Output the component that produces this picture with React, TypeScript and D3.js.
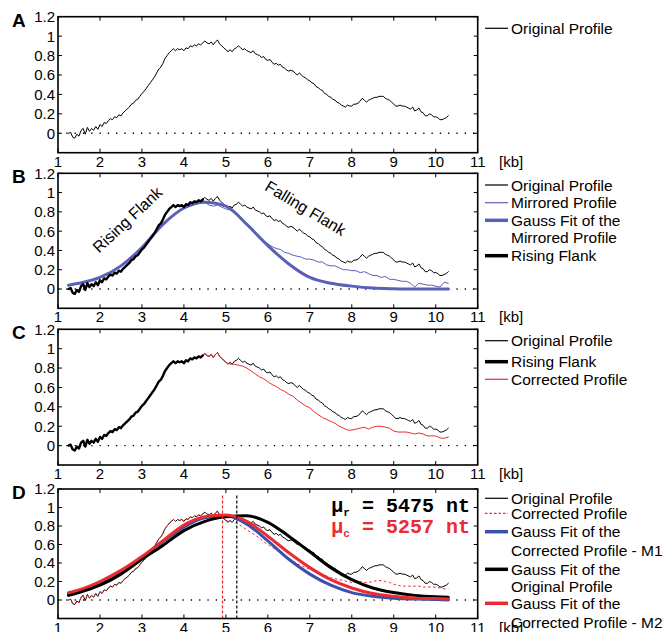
import React from 'react';
import * as d3 from 'd3';

// profile sampled every 0.05 kb from 1.25 kb
const profileStart = 1.25;
const profileStep = 0.05;
const originalProfile = [
  0.0, 0.01, -0.04, -0.05, -0.01, -0.03, 0.03, 0.05, -0.01, 0.06,
  0.02, 0.05, 0.03, 0.07, 0.04, 0.09, 0.07, 0.11, 0.1, 0.13,
  0.15, 0.14, 0.17, 0.16, 0.19, 0.18, 0.21, 0.23, 0.25, 0.27,
  0.3, 0.31, 0.34, 0.35, 0.38, 0.41, 0.43, 0.46, 0.49, 0.52,
  0.55, 0.58, 0.62, 0.66, 0.68, 0.72, 0.77, 0.8, 0.83, 0.85,
  0.87, 0.85, 0.87, 0.86, 0.87, 0.85, 0.88, 0.87, 0.9, 0.89,
  0.91, 0.9, 0.92, 0.91, 0.93, 0.95, 0.93, 0.92, 0.94, 0.91,
  0.94, 0.96, 0.92, 0.9, 0.88, 0.86, 0.84, 0.86, 0.84, 0.87,
  0.88, 0.9, 0.88, 0.86, 0.87, 0.85, 0.84, 0.83, 0.85, 0.82,
  0.81, 0.8, 0.78, 0.79, 0.76, 0.75, 0.76, 0.73, 0.71, 0.72,
  0.7, 0.71, 0.68, 0.67, 0.65, 0.64, 0.65, 0.64, 0.62, 0.6,
  0.62, 0.6, 0.58, 0.57, 0.55, 0.54, 0.52, 0.51, 0.48, 0.47,
  0.45, 0.44, 0.41, 0.4, 0.38, 0.37, 0.35, 0.34, 0.32, 0.31,
  0.29, 0.28, 0.27, 0.29, 0.28, 0.28, 0.3, 0.3, 0.31, 0.33,
  0.36, 0.34, 0.32, 0.34, 0.35, 0.36, 0.37, 0.37, 0.38, 0.38,
  0.38, 0.36, 0.35, 0.34, 0.32, 0.3, 0.28, 0.28, 0.29, 0.28,
  0.28, 0.27, 0.26, 0.25, 0.27, 0.23, 0.24, 0.26, 0.22, 0.21,
  0.18, 0.18, 0.2, 0.19, 0.17, 0.17, 0.16, 0.14, 0.14, 0.15,
  0.16, 0.18,
];
const risingEnd = 65; // up to 4.45 kb
const peakEnd = 75; // up to 4.95 kb

// mirrored falling flank, every 0.1 kb from 4.5 kb
const mirroredStart = 4.5;
const mirroredTail = [
  0.9, 0.87, 0.86, 0.87, 0.85, 0.83, 0.82, 0.79, 0.76, 0.72,
  0.67, 0.62, 0.57, 0.52, 0.5, 0.47, 0.44, 0.42, 0.41, 0.38,
  0.37, 0.35, 0.34, 0.33, 0.31, 0.31, 0.3, 0.28, 0.28, 0.25,
  0.24, 0.24, 0.22, 0.2, 0.2, 0.19, 0.19, 0.17, 0.18, 0.16,
  0.14, 0.14, 0.12, 0.13, 0.1, 0.1, 0.09, 0.08, 0.08, 0.06,
  0.02, 0.06, 0.05, 0.04, 0.04, 0.03, 0.02, 0.07, 0.06,
];

// corrected profiles, every 0.1 kb from 5.0 kb
const tailStart = 5.0;
const tailStep = 0.1;
const correctedTailC = [
  0.86, 0.84, 0.84, 0.83, 0.82, 0.8, 0.77, 0.74, 0.71, 0.69,
  0.66, 0.63, 0.61, 0.58, 0.56, 0.53, 0.51, 0.47, 0.44, 0.41,
  0.39, 0.35, 0.32, 0.29, 0.27, 0.25, 0.23, 0.2, 0.18, 0.16,
  0.16, 0.17, 0.18, 0.19, 0.17, 0.19, 0.2, 0.2, 0.19, 0.18,
  0.15, 0.14, 0.14, 0.14, 0.13, 0.12, 0.13, 0.12, 0.1, 0.1,
  0.1, 0.08, 0.075, 0.09,
];
const correctedTailD = [
  0.86, 0.85, 0.84, 0.82, 0.79, 0.76, 0.73, 0.7, 0.67, 0.63,
  0.6, 0.57, 0.54, 0.51, 0.48, 0.45, 0.42, 0.39, 0.37, 0.35,
  0.33, 0.31, 0.29, 0.27, 0.26, 0.24, 0.23, 0.22, 0.21, 0.2,
  0.19, 0.19, 0.2, 0.19, 0.19, 0.2, 0.21, 0.21, 0.2, 0.19,
  0.17, 0.16, 0.15, 0.15, 0.15, 0.15, 0.15, 0.14, 0.14, 0.14,
  0.14, 0.13, 0.12, 0.12,
];

// gauss fits
const fitX = [1.25, 1.5, 2, 2.5, 3, 3.5, 4, 4.5, 5, 5.5, 6, 6.5, 7, 7.5, 8, 8.5, 9, 9.5, 10, 10.3];
const mirroredFit = [0.04, 0.06, 0.12, 0.24, 0.43, 0.67, 0.84, 0.9, 0.86, 0.67, 0.45, 0.26, 0.12, 0.06, 0.03, 0.01, 0.003, 0, 0, 0];
const originalFit = [0.05, 0.08, 0.16, 0.28, 0.44, 0.59, 0.75, 0.85, 0.9, 0.91, 0.84, 0.69, 0.52, 0.35, 0.22, 0.13, 0.08, 0.05, 0.035, 0.03];
const correctedFitM2 = [0.08, 0.11, 0.2, 0.32, 0.47, 0.64, 0.81, 0.9, 0.92, 0.85, 0.69, 0.51, 0.35, 0.22, 0.13, 0.07, 0.04, 0.02, 0.015, 0.01];
const correctedFitM1 = [0.06, 0.09, 0.17, 0.31, 0.46, 0.63, 0.79, 0.89, 0.91, 0.82, 0.64, 0.44, 0.28, 0.16, 0.08, 0.04, 0.02, 0.01, 0.005, 0];
const fitMeans = [4.92, 5.26]; // corrected, original

const xTicks = [1, 2, 3, 4, 5, 6, 7, 8, 9, 10, 11];
const yTicks = [0, 0.2, 0.4, 0.6, 0.8, 1, 1.2];
const yTickLabels = ['0', '0.2', '0.4', '0.6', '0.8', '1', '1.2'];

const RED = '#ec2a30';
const BLUE_B = '#5a60b8';
const BLUE_D = '#3a4fae';
const FONT = '"Liberation Sans", Arial, Helvetica, sans-serif';
const X_LEFT = 58;
const X_RIGHT = 477.7;

type Pt = [number, number];
const toPoints = (start: number, step: number, vals: number[]): Pt[] =>
  vals.map((v, i) => [start + i * step, v] as Pt);
const fitPoints = (vals: number[]): Pt[] => fitX.map((x, i) => [x, vals[i]] as Pt);

const original = toPoints(profileStart, profileStep, originalProfile);
const rising = original.slice(0, risingEnd);
const mirrored = rising.concat(toPoints(mirroredStart, tailStep, mirroredTail));
const correctedC = original.slice(risingEnd - 1, peakEnd).concat(toPoints(tailStart, tailStep, correctedTailC));
const correctedD = original.slice(0, peakEnd).concat(toPoints(tailStart, tailStep, correctedTailD));

interface Series { pts: Pt[]; color: string; width: number; dash?: string; smooth?: boolean }
interface LegendRow { y: number; text: string; line?: { color: string; width: number; dash?: string } }

function Panel({ label, top, height, series, legend, extra }: {
  label: string; top: number; height: number; series: Series[]; legend: LegendRow[];
  extra?: (x: d3.ScaleLinear<number, number>, y: d3.ScaleLinear<number, number>) => React.ReactNode;
}) {
  const x = d3.scaleLinear().domain([1, 11]).range([X_LEFT, X_RIGHT]);
  const y = d3.scaleLinear().domain([-0.2, 1.2]).range([top + height, top]);
  const bottom = top + height;
  const tick = 4;

  return (
    <g>
      <line x1={x(1)} x2={x(11)} y1={y(0)} y2={y(0)} stroke="#000" strokeWidth={1.3} strokeDasharray="1.3 7" />
      {series.map((s, i) => {
        const line = d3.line<Pt>().x(d => x(d[0])).y(d => y(d[1]));
        if (s.smooth) line.curve(d3.curveMonotoneX);
        return (
          <path key={i} d={line(s.pts) || ''} fill="none" stroke={s.color} strokeWidth={s.width}
            strokeDasharray={s.dash} strokeLinejoin="round" strokeLinecap={s.dash ? 'butt' : 'round'} />
        );
      })}
      {extra && extra(x, y)}
      {/* frame */}
      <rect x={X_LEFT} y={top} width={X_RIGHT - X_LEFT} height={height} fill="none" stroke="#000" strokeWidth={1.6} />
      {xTicks.map(t => (
        <g key={'x' + t}>
          <line x1={x(t)} x2={x(t)} y1={bottom} y2={bottom - tick} stroke="#000" strokeWidth={1} />
          <line x1={x(t)} x2={x(t)} y1={top} y2={top + tick} stroke="#000" strokeWidth={1} />
          <text x={x(t)} y={bottom + 14} textAnchor="middle" fontFamily={FONT} fontSize={15}>{t}</text>
        </g>
      ))}
      {yTicks.map((t, i) => (
        <g key={'y' + t}>
          <line x1={X_LEFT} x2={X_LEFT + tick} y1={y(t)} y2={y(t)} stroke="#000" strokeWidth={1} />
          <line x1={X_RIGHT} x2={X_RIGHT - tick} y1={y(t)} y2={y(t)} stroke="#000" strokeWidth={1} />
          <text x={55} y={y(t)} dy="0.36em" textAnchor="end" fontFamily={FONT} fontSize={15}>{yTickLabels[i]}</text>
        </g>
      ))}
      <text x={499} y={bottom + 14} fontFamily={FONT} fontSize={15}>[kb]</text>
      <text x={12} y={top + 10} fontFamily={FONT} fontSize={19} fontWeight="bold">{label}</text>
      {legend.map((r, i) => (
        <g key={'l' + i}>
          {r.line && (
            <line x1={485} x2={508} y1={r.y} y2={r.y} stroke={r.line.color} strokeWidth={r.line.width}
              strokeDasharray={r.line.dash} />
          )}
          <text x={511} y={r.y} dy="0.36em" fontFamily={FONT} fontSize={15.5}>{r.text}</text>
        </g>
      ))}
    </g>
  );
}

export default function App() {
  const thin = (color: string) => ({ color, width: 1.2 });
  const thick = (color: string) => ({ color, width: 3.5 });
  return (
    <svg width={666} height={632} style={{ position: 'absolute', left: 0, top: 0, background: '#fff' }}>
      <Panel label="A" top={16.7} height={136}
        series={[{ pts: original, color: '#000', width: 1 }]}
        legend={[{ y: 28.3, text: 'Original Profile', line: thin('#000') }]} />

      <Panel label="B" top={173.3} height={135}
        series={[
          { pts: original, color: '#000', width: 1 },
          { pts: mirrored, color: BLUE_B, width: 1 },
          { pts: fitPoints(mirroredFit), color: BLUE_B, width: 3, smooth: true },
          { pts: rising, color: '#000', width: 2.4 },
        ]}
        legend={[
          { y: 185, text: 'Original Profile', line: thin('#000') },
          { y: 202.7, text: 'Mirrored Profile', line: thin(BLUE_B) },
          { y: 220.3, text: 'Gauss Fit of the', line: thick(BLUE_B) },
          { y: 237.9, text: 'Mirrored Profile' },
          { y: 255.7, text: 'Rising Flank', line: thick('#000') },
        ]}
        extra={(x, y) => (
          <g fontFamily={FONT} fontSize={16}>
            <text transform={`translate(${x(2.65)},${y(0.72)}) rotate(-43)`} textAnchor="middle" dy="0.36em">Rising Flank</text>
            <text transform={`translate(${x(6.9)},${y(0.84)}) rotate(31)`} textAnchor="middle" dy="0.36em">Falling Flank</text>
          </g>
        )} />

      <Panel label="C" top={329.3} height={135.7}
        series={[
          { pts: original, color: '#000', width: 1 },
          { pts: correctedC, color: RED, width: 1 },
          { pts: rising, color: '#000', width: 2.4 },
        ]}
        legend={[
          { y: 340.7, text: 'Original Profile', line: thin('#000') },
          { y: 361.7, text: 'Rising Flank', line: thick('#000') },
          { y: 379.3, text: 'Corrected Profile', line: thin(RED) },
        ]} />

      <Panel label="D" top={489} height={129.5}
        series={[
          { pts: original, color: '#000', width: 1 },
          { pts: correctedD, color: RED, width: 1, dash: '2.5 2.5' },
          { pts: fitPoints(correctedFitM1), color: BLUE_D, width: 3, smooth: true },
          { pts: fitPoints(originalFit), color: '#000', width: 3, smooth: true },
          { pts: fitPoints(correctedFitM2), color: RED, width: 3, smooth: true },
        ]}
        legend={[
          { y: 498.3, text: 'Original Profile', line: thin('#000') },
          { y: 513.3, text: 'Corrected Profile', line: { color: RED, width: 1.2, dash: '2.5 2' } },
          { y: 531.7, text: 'Gauss Fit of the', line: thick(BLUE_D) },
          { y: 550, text: 'Corrected Profile - M1' },
          { y: 569.3, text: 'Gauss Fit of the', line: thick('#000') },
          { y: 586.7, text: 'Original Profile' },
          { y: 603.3, text: 'Gauss Fit of the', line: thick(RED) },
          { y: 622.7, text: 'Corrected Profile - M2' },
        ]}
        extra={(x, y) => (
          <g>
            {fitMeans.map((m, i) => (
              <line key={i} x1={x(m)} x2={x(m)} y1={y(-0.2)} y2={y(1.13)} stroke={i === 0 ? RED : '#000'}
                strokeWidth={1.2} strokeDasharray="3 2" />
            ))}
            <g fontFamily='"Liberation Mono", "DejaVu Sans Mono", monospace' fontSize={20} fontWeight="bold">
              <text x={470} y={511.7} textAnchor="end" fill="#000">
                <tspan>μ</tspan><tspan fontSize={11} dy={4}>r</tspan><tspan dy={-4}> = 5475 nt</tspan>
              </text>
              <text x={470} y={533} textAnchor="end" fill={RED}>
                <tspan>μ</tspan><tspan fontSize={11} dy={4}>c</tspan><tspan dy={-4}> = 5257 nt</tspan>
              </text>
            </g>
          </g>
        )} />
    </svg>
  );
}
